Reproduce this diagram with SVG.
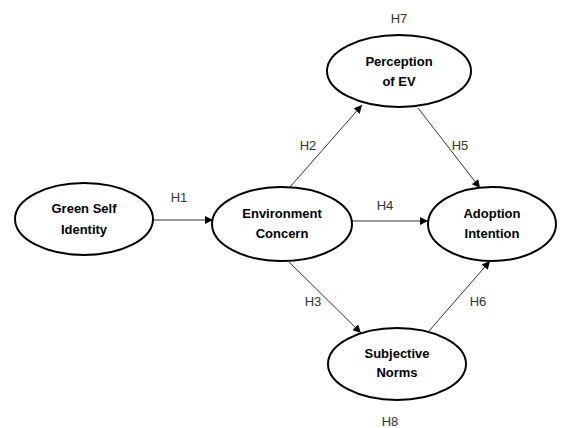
<svg xmlns="http://www.w3.org/2000/svg" width="565" height="428" viewBox="0 0 565 428">
<defs>
<marker id="arr" viewBox="0 0 10 10" refX="10" refY="5" markerWidth="9" markerHeight="8" markerUnits="userSpaceOnUse" orient="auto">
<path d="M0,0 L10,5 L0,10 z" fill="#000"/>
</marker>
<style>
.node{fill:#fff;stroke:#000;stroke-width:2}
.nt{font-family:"Liberation Sans",Arial,sans-serif;font-weight:bold;font-size:13px;fill:#000;text-anchor:middle}
.lbl{font-family:"Liberation Sans",Arial,sans-serif;font-size:13px;fill:#333;text-anchor:middle}
.edge{stroke:#333;stroke-width:1;fill:none;marker-end:url(#arr)}
</style>
</defs>
<rect width="565" height="428" fill="#fff"/>
<g id="connectors">
<line class="edge" x1="153" y1="220" x2="213" y2="220"/>
<line class="edge" x1="352" y1="221" x2="428" y2="221"/>
<line class="edge" x1="290" y1="187" x2="362" y2="105"/>
<line class="edge" x1="418" y1="108" x2="480" y2="188"/>
<line class="edge" x1="289" y1="262" x2="361" y2="333"/>
<line class="edge" x1="429" y1="331" x2="490" y2="261"/>
</g>
<g id="labels">
<text class="lbl" x="179" y="202">H1</text>
<text class="lbl" x="308" y="150">H2</text>
<text class="lbl" x="460" y="150">H5</text>
<text class="lbl" x="385" y="210">H4</text>
<text class="lbl" x="313" y="306">H3</text>
<text class="lbl" x="478" y="306">H6</text>
<text class="lbl" x="399" y="23">H7</text>
<text class="lbl" x="390" y="426">H8</text>
</g>
<g id="green-self-identity">
<ellipse class="node" cx="84" cy="219" rx="69" ry="36"/>
<text class="nt" x="84" y="213">Green Self</text>
<text class="nt" x="84" y="234">Identity</text>
</g>
<g id="environment-concern">
<ellipse class="node" cx="282" cy="224" rx="70" ry="37"/>
<text class="nt" x="282" y="218">Environment</text>
<text class="nt" x="282" y="238">Concern</text>
</g>
<g id="adoption-intention">
<ellipse class="node" cx="492" cy="224" rx="64" ry="37"/>
<text class="nt" x="492" y="218">Adoption</text>
<text class="nt" x="492" y="238">Intention</text>
</g>
<g id="perception-of-ev">
<ellipse class="node" cx="399" cy="71" rx="72" ry="36"/>
<text class="nt" x="399" y="66">Perception</text>
<text class="nt" x="399" y="86">of EV</text>
</g>
<g id="subjective-norms">
<ellipse class="node" cx="397" cy="364" rx="69" ry="36"/>
<text class="nt" x="397" y="358">Subjective</text>
<text class="nt" x="397" y="377">Norms</text>
</g>
</svg>
